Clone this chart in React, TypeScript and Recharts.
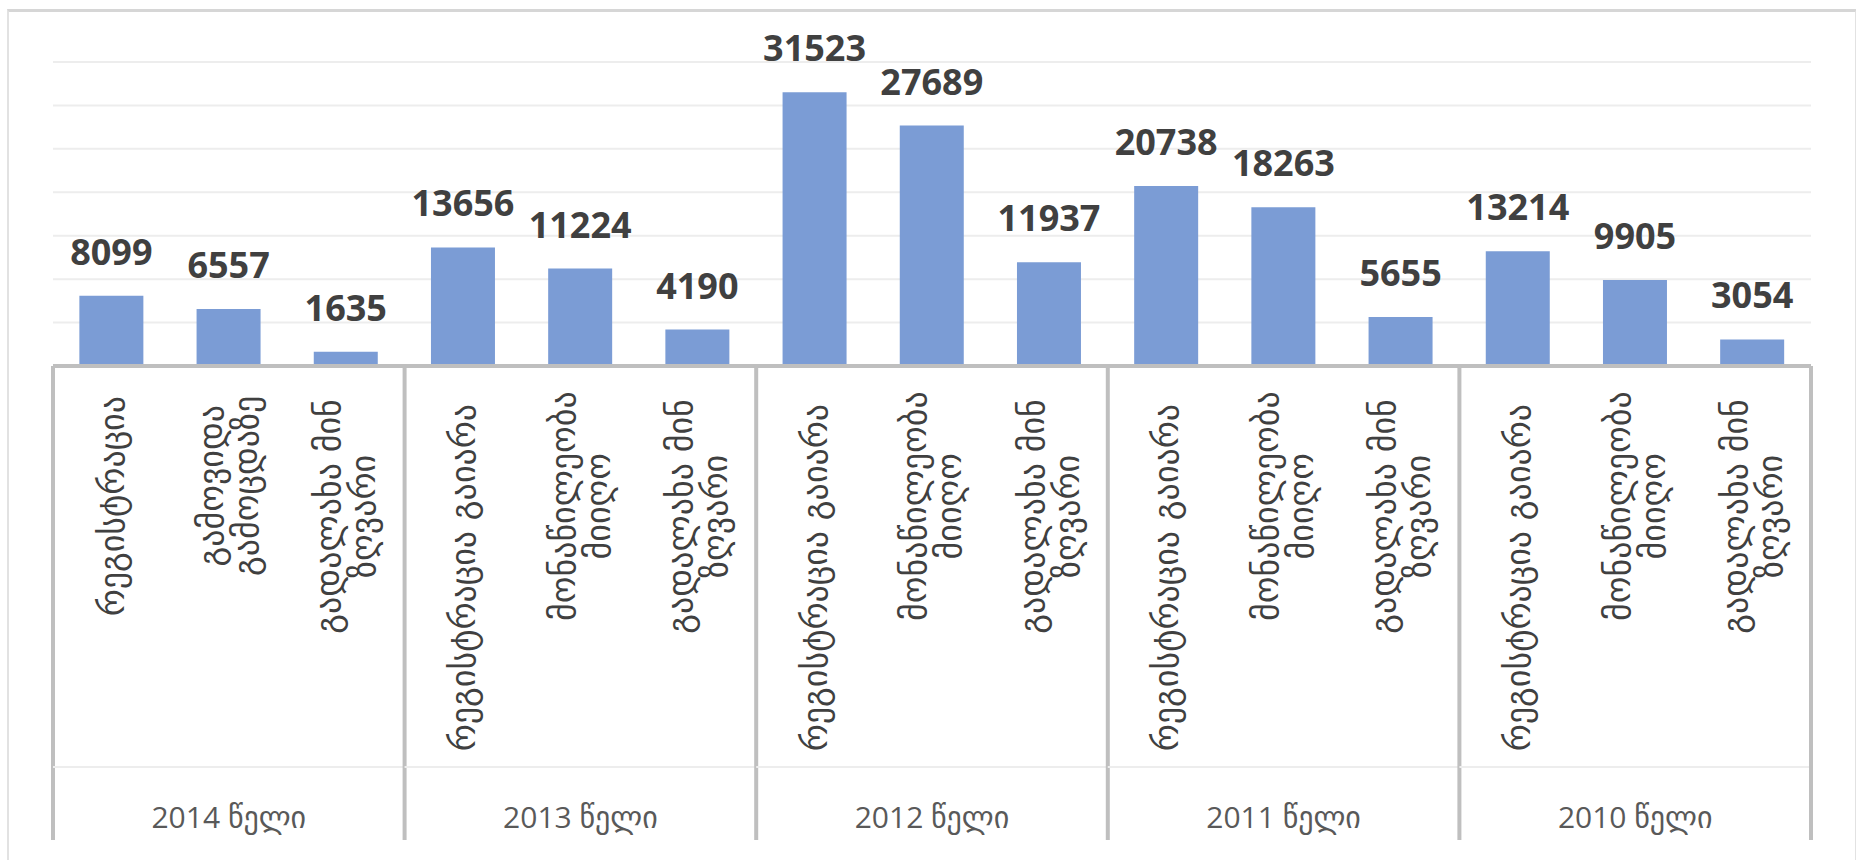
import { BarChart, Bar, XAxis, YAxis, CartesianGrid, LabelList } from 'recharts'

const years = ['2014 წელი', '2013 წელი', '2012 წელი', '2011 წელი', '2010 წელი']

// category labels, '\n' marks a line break as in the original
const stages2014 = ['რეგისტრაცია', 'გამოვიდა\nგამოცდაზე', 'გადალახა მინ\nზღვარი']
const stages = ['რეგისტრაცია გაიარა', 'მონაწილეობა\nმიიღო', 'გადალახა მინ\nზღვარი']

const counts = [
  8099, 6557, 1635,
  13656, 11224, 4190,
  31523, 27689, 11937,
  20738, 18263, 5655,
  13214, 9905, 3054,
]

const yTicks = [0, 5000, 10000, 15000, 20000, 25000, 30000, 35000]

const categoryLabels = years.flatMap((_, i) => (i === 0 ? stages2014 : stages))

const data = counts.map((v, i) => ({
  id: 'c' + i,
  year: years[Math.floor(i / 3)],
  label: categoryLabels[i],
  value: v,
}))

const W = 1856
const H = 860
const M = { top: 62, right: 45, left: 53, bottom: 0 }
const PLOT_BOTTOM = 366
const STEP = (W - M.left - M.right) / data.length
const AXIS_GRAY = '#BFBFBF'
const GEO_FONT = '"DejaVu Sans", sans-serif'
const GEO_SIZE = 34

function CategoryTick(props: any) {
  const { x, index } = props
  const d = data[index]
  if (!d) return null
  const lines = d.label.split('\n')
  const maxLen = Math.max(...lines.map((l: string) => l.length))
  const charW = GEO_SIZE * 0.6
  const top = 394
  const lineGap = 35
  const els: any[] = []

  lines.forEach((l: string, i: number) => {
    const dx = (i - (lines.length - 1) / 2) * lineGap
    els.push(
      <text
        key={'t' + i}
        transform={`translate(${x + dx}, ${top}) rotate(-90)`}
        x={-(maxLen * charW) / 2}
        y={0}
        dy="0.35em"
        textAnchor="middle"
        fontFamily={GEO_FONT}
        fontSize={GEO_SIZE}
        fill="#404040"
      >
        {l}
      </text>
    )
  })

  if (index % 3 === 0) {
    els.push(
      <line key="sepL" x1={x - STEP / 2} x2={x - STEP / 2} y1={PLOT_BOTTOM} y2={840} stroke={AXIS_GRAY} strokeWidth={4} />
    )
  }
  if (index === data.length - 1) {
    els.push(
      <line key="sepR" x1={x + STEP / 2} x2={x + STEP / 2} y1={PLOT_BOTTOM} y2={840} stroke={AXIS_GRAY} strokeWidth={4} />
    )
  }
  if (index % 3 === 1) {
    els.push(
      <line key="mid" x1={x - STEP * 1.5} x2={x + STEP * 1.5} y1={767} y2={767} stroke="#EDEDED" strokeWidth={2} />
    )
    els.push(
      <text
        key="yr"
        x={x}
        y={817}
        dy="0.35em"
        textAnchor="middle"
        fontFamily={'"Open Sans", "DejaVu Sans", sans-serif'}
        fontSize={30}
        fill="#595959"
      >
        {d.year}
      </text>
    )
  }
  return <g>{els}</g>
}

export default function App() {
  return (
    <div style={{ position: 'absolute', left: 0, top: 0, width: W, height: H, overflow: 'hidden', background: '#fff' }}>
      <div
        style={{
          position: 'absolute',
          left: 7,
          top: 9,
          width: 1846,
          height: 900,
          borderTop: '3px solid #D6D6D6',
          borderLeft: '2px solid #E2E2E2',
          borderRight: '2px solid #E2E2E2',
        }}
      />
      <div style={{ position: 'absolute', left: 0, top: 0 }}>
        <BarChart width={W} height={H} data={data} margin={M} barCategoryGap="22.5%">
          <CartesianGrid vertical={false} stroke="#EDEDED" strokeWidth={2} />
          <YAxis hide domain={[0, 35000]} ticks={yTicks} />
          <XAxis
            dataKey="id"
            interval={0}
            height={H - PLOT_BOTTOM}
            tickLine={false}
            axisLine={{ stroke: AXIS_GRAY, strokeWidth: 4 }}
            tick={<CategoryTick />}
          />
          <Bar dataKey="value" fill="#7B9CD5" isAnimationActive={false}>
            <LabelList
              dataKey="value"
              position="top"
              offset={31}
              fill="#404040"
              style={{ fontFamily: '"Open Sans", sans-serif', fontWeight: 700, fontSize: 36 }}
            />
          </Bar>
        </BarChart>
      </div>
    </div>
  )
}
